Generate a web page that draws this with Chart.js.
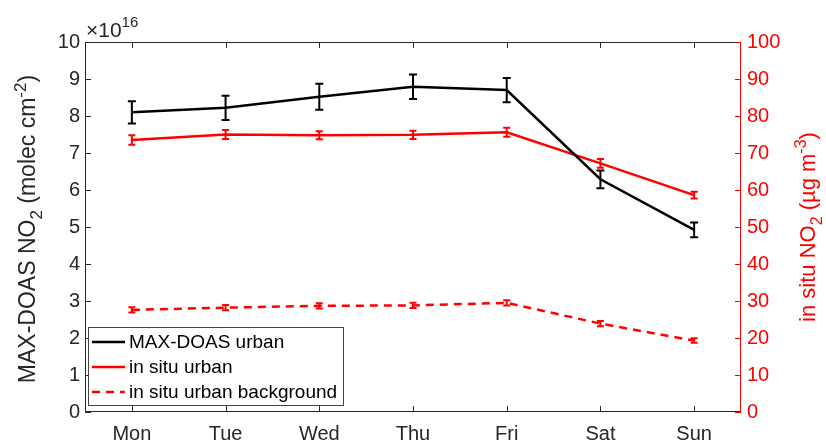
<!DOCTYPE html>
<html>
<head>
<meta charset="UTF-8">
<script src="https://cdn.jsdelivr.net/npm/chart.js@4"></script>
<title>NO2 weekly cycle</title>
<style>
  body { margin: 0; background: #fff; }
  #wrap { width: 826px; height: 443px; }
</style>
</head>
<body>
<div id="wrap"><canvas id="no2Chart"></canvas></div>
<script>
// data
const days = ['Mon', 'Tue', 'Wed', 'Thu', 'Fri', 'Sat', 'Sun'];
const maxdoasUrban = [8.1, 8.22, 8.52, 8.79, 8.7, 6.29, 4.92];      // x 1e16 molec cm-2
const maxdoasUrbanErr = [0.3, 0.33, 0.35, 0.33, 0.33, 0.24, 0.2];
const insituUrban = [73.5, 75.0, 74.8, 74.9, 75.6, 67.2, 58.6];     // ug m-3
const insituUrbanErr = [1.3, 1.2, 1.1, 1.1, 1.2, 1.2, 0.9];
const insituBackground = [27.6, 28.2, 28.7, 28.8, 29.5, 23.9, 19.3];
const insituBackgroundErr = [0.7, 0.7, 0.7, 0.7, 0.7, 0.7, 0.6];
const leftTicks = [0, 1, 2, 3, 4, 5, 6, 7, 8, 9, 10];
const rightTicks = [0, 10, 20, 30, 40, 50, 60, 70, 80, 90, 100];

const FONT = '"Liberation Sans", Arial, sans-serif';
const AXIS = '#262626';
const RED = '#ff0000';

// draws text made of normal / sub / sup pieces, centred on (cx, cy), rotated
function richText(ctx, parts, cx, cy, rot, size, color) {
  ctx.save();
  ctx.translate(cx, cy);
  ctx.rotate(rot);
  ctx.fillStyle = color;
  ctx.textBaseline = 'alphabetic';
  ctx.textAlign = 'left';
  let total = 0;
  parts.forEach(p => {
    ctx.font = (p.k === 'n' ? size : Math.round(size * 0.72)) + 'px ' + FONT;
    p.w = ctx.measureText(p.t).width;
    total += p.w;
  });
  let x = -total / 2;
  parts.forEach(p => {
    ctx.font = (p.k === 'n' ? size : Math.round(size * 0.72)) + 'px ' + FONT;
    let dy = size * 0.36;
    if (p.k === 'sub') dy += size * 0.3;
    if (p.k === 'sup') dy -= size * 0.42;
    ctx.fillText(p.t, x, dy);
    x += p.w;
  });
  ctx.restore();
}

const errorBars = {
  id: 'errorBars',
  afterDatasetsDraw(chart) {
    const ctx = chart.ctx;
    chart.data.datasets.forEach((ds, i) => {
      const meta = chart.getDatasetMeta(i);
      const ys = chart.scales[ds.yAxisID];
      ctx.save();
      ctx.strokeStyle = ds.borderColor;
      ctx.lineWidth = 2;
      ds.data.forEach((v, j) => {
        const x = meta.data[j].x;
        const e = ds.err[j];
        const top = ys.getPixelForValue(v + e);
        const bot = ys.getPixelForValue(v - e);
        const cap = ds.cap;
        ctx.beginPath();
        ctx.moveTo(x, top); ctx.lineTo(x, bot);
        ctx.moveTo(x - cap, top); ctx.lineTo(x + cap, top);
        ctx.moveTo(x - cap, bot); ctx.lineTo(x + cap, bot);
        ctx.stroke();
      });
      ctx.restore();
    });
  }
};

const frame = {
  id: 'frame',
  afterDraw(chart) {
    const ctx = chart.ctx;
    const a = chart.chartArea;
    const xs = chart.scales.x, yl = chart.scales.y, yr = chart.scales.y1;
    ctx.save();
    ctx.lineWidth = 1;
    ctx.strokeStyle = AXIS;
    ctx.beginPath();
    ctx.moveTo(a.right, a.top + 0.5); ctx.lineTo(a.left + 0.5, a.top + 0.5);
    ctx.lineTo(a.left + 0.5, a.bottom - 0.5); ctx.lineTo(a.right, a.bottom - 0.5);
    leftTicks.forEach(t => {
      const y = Math.round(yl.getPixelForValue(t)) + 0.5;
      ctx.moveTo(a.left, y); ctx.lineTo(a.left + 6, y);
    });
    days.forEach((d, i) => {
      const x = Math.round(xs.getPixelForValue(i)) + 0.5;
      ctx.moveTo(x, a.bottom); ctx.lineTo(x, a.bottom - 6);
      ctx.moveTo(x, a.top); ctx.lineTo(x, a.top + 6);
    });
    ctx.stroke();
    ctx.strokeStyle = RED;
    ctx.beginPath();
    ctx.moveTo(a.right - 0.5, a.top); ctx.lineTo(a.right - 0.5, a.bottom);
    rightTicks.forEach(t => {
      const y = Math.round(yr.getPixelForValue(t)) + 0.5;
      ctx.moveTo(a.right, y); ctx.lineTo(a.right - 6, y);
    });
    ctx.stroke();

    // exponent label
    ctx.fillStyle = AXIS;
    ctx.textBaseline = 'alphabetic';
    ctx.textAlign = 'left';
    ctx.font = '21px ' + FONT;
    ctx.fillText('\u00d710', a.left + 1, a.top - 5);
    const w = ctx.measureText('\u00d710').width;
    ctx.font = '15px ' + FONT;
    ctx.fillText('16', a.left + 1 + w, a.top - 15);

    // axis titles
    richText(ctx, [{t: 'MAX-DOAS NO', k: 'n'}, {t: '2', k: 'sub'}, {t: ' (molec cm', k: 'n'}, {t: '-2', k: 'sup'}, {t: ')', k: 'n'}],
      27, (a.top + a.bottom) / 2 + 2, -Math.PI / 2, 23, AXIS);
    richText(ctx, [{t: 'in situ NO', k: 'n'}, {t: '2', k: 'sub'}, {t: ' (\u00b5g m', k: 'n'}, {t: '-3', k: 'sup'}, {t: ')', k: 'n'}],
      807, (a.top + a.bottom) / 2, -Math.PI / 2, 22, RED);

    // legend box inside the plot
    const lx = a.left + 3, ly = a.bottom - 85, lw = 255, lh = 78;
    ctx.fillStyle = '#fff';
    ctx.fillRect(lx, ly, lw, lh);
    ctx.strokeStyle = '#444';
    ctx.strokeRect(lx + 0.5, ly + 0.5, lw, lh);
    chart.data.datasets.forEach((ds, i) => {
      const y = ly + 15 + i * 25;
      ctx.save();
      ctx.strokeStyle = ds.borderColor;
      ctx.lineWidth = 2.5;
      ctx.setLineDash(ds.borderDash || []);
      ctx.beginPath();
      ctx.moveTo(lx + 4, y); ctx.lineTo(lx + 37, y);
      ctx.stroke();
      ctx.restore();
      ctx.fillStyle = '#000';
      ctx.font = '19px ' + FONT;
      ctx.textBaseline = 'middle';
      ctx.fillText(ds.label, lx + 41, y + 1);
    });
    ctx.restore();
  }
};

const config = {
  type: 'line',
  data: {
    labels: days,
    datasets: [
      { label: 'MAX-DOAS urban', data: maxdoasUrban, err: maxdoasUrbanErr, cap: 4, yAxisID: 'y',
        borderColor: '#000000', borderWidth: 2.5, pointRadius: 0, tension: 0 },
      { label: 'in situ urban', data: insituUrban, err: insituUrbanErr, cap: 3.5, yAxisID: 'y1',
        borderColor: RED, borderWidth: 2.5, pointRadius: 0, tension: 0 },
      { label: 'in situ urban background', data: insituBackground, err: insituBackgroundErr, cap: 3.5, yAxisID: 'y1',
        borderColor: RED, borderWidth: 2.5, borderDash: [8, 6], pointRadius: 0, tension: 0 }
    ]
  },
  options: {
    responsive: true,
    maintainAspectRatio: false,
    animation: false,
    layout: { padding: { top: 42, left: 0, right: 0, bottom: 0 } },
    plugins: { legend: { display: false }, tooltip: { enabled: false } },
    scales: {
      x: {
        offset: true,
        grid: { display: false, drawTicks: false },
        border: { display: false },
        ticks: { color: AXIS, font: { family: FONT, size: 20 }, padding: 10, maxRotation: 0 },
        afterFit(s) { s.height = 31; }
      },
      y: {
        position: 'left', min: 0, max: 10,
        grid: { display: false, drawTicks: false },
        border: { display: false },
        ticks: { stepSize: 1, color: AXIS, font: { family: FONT, size: 20 }, padding: 5 },
        afterFit(s) { s.width = 85; }
      },
      y1: {
        position: 'right', min: 0, max: 100,
        grid: { display: false, drawTicks: false },
        border: { display: false },
        ticks: { stepSize: 10, color: RED, font: { family: FONT, size: 20 }, padding: 6 },
        afterFit(s) { s.width = 85; }
      }
    }
  },
  plugins: [errorBars, frame]
};

const no2Chart = new Chart(document.getElementById('no2Chart'), config);
</script>
</body>
</html>
